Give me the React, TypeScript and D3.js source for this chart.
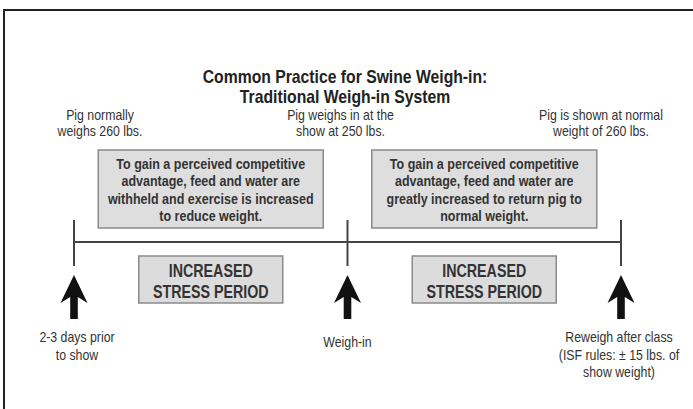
import { useMemo } from "react";
import * as d3 from "d3";

// Timeline events (left to right)
const events = ["prior", "weighin", "reweigh"];
const eventLabels = [
  ["2-3 days prior", "to show"],
  ["Weigh-in"],
  ["Reweigh after class", "(ISF rules: ± 15 lbs. of", "show weight)"],
];
const weightNotes = [
  ["Pig normally", "weighs 260 lbs."],
  ["Pig weighs in at the", "show at 250 lbs."],
  ["Pig is shown at normal", "weight of 260 lbs."],
];
const periodNotes = [
  [
    "To gain a perceived competitive",
    "advantage, feed and water are",
    "withheld and exercise is increased",
    "to reduce weight.",
  ],
  [
    "To gain a perceived competitive",
    "advantage, feed and water are",
    "greatly increased to return pig to",
    "normal weight.",
  ],
];
const periodLabels = [
  ["INCREASED", "STRESS PERIOD"],
  ["INCREASED", "STRESS PERIOD"],
];
const titleLines = ["Common Practice for Swine Weigh-in:", "Traditional Weigh-in System"];

const W = 693;
const H = 409;
const FONT = "'Liberation Sans', Arial, sans-serif";

// narrow text: the original uses a condensed sans, so squeeze horizontally
function T(props: {
  x: number;
  y: number;
  size: number;
  sx: number;
  bold?: boolean;
  fill?: string;
  children: string;
}) {
  const { x, y, size, sx, bold, fill, children } = props;
  return (
    <text
      transform={`translate(${x},${y}) scale(${sx},1)`}
      textAnchor="middle"
      fontSize={size}
      fontWeight={bold ? "bold" : "normal"}
      fill={fill ?? "#333"}
    >
      {children}
    </text>
  );
}

export default function App() {
  const x = useMemo(() => d3.scalePoint<string>().domain(events).range([74, 621]), []);
  const lineY = 242;

  // arrow shape, tip at (0,0)
  const arrow = useMemo(() => {
    const p = d3.path();
    p.moveTo(0, 0);
    p.lineTo(13.5, 28);
    p.lineTo(3.8, 22);
    p.lineTo(3.8, 44);
    p.lineTo(-3.8, 44);
    p.lineTo(-3.8, 22);
    p.lineTo(-13.5, 28);
    p.closePath();
    return p.toString();
  }, []);

  const mids = d3.pairs(events).map(([a, b]) => ((x(a) ?? 0) + (x(b) ?? 0)) / 2);

  return (
    <svg
      width={W}
      height={H}
      style={{ position: "absolute", left: 0, top: 0, background: "#fff" }}
      fontFamily={FONT}
    >
      {/* frame */}
      <rect x={4} y={10} width={W + 40} height={H + 40} fill="none" stroke="#222" strokeWidth={2} />

      {/* title */}
      {titleLines.map((t, i) => (
        <T key={t} x={345} y={82.5 + i * 20} size={17.5} sx={0.9} bold fill="#222">
          {t}
        </T>
      ))}

      {/* weight notes above events */}
      {weightNotes.map((lines, i) =>
        lines.map((t, j) => (
          <T key={`w${i}${j}`} x={(x(events[i]) ?? 0) + [26, -7, -20][i]} y={119.5 + j * 16} size={14} sx={0.88}>
            {t}
          </T>
        ))
      )}

      {/* period notes boxes */}
      {periodNotes.map((lines, i) => (
        <g key={`p${i}`} transform={`translate(${mids[i]},0)`}>
          <rect x={-112.5} y={150} width={225} height={78} fill="#dedede" stroke="#8a8a8a" strokeWidth={1.5} />
          {lines.map((t, j) => (
            <T key={j} x={0} y={168.5 + j * 17.5} size={15} sx={0.835} bold>
              {t}
            </T>
          ))}
        </g>
      ))}

      {/* timeline */}
      <line x1={x(events[0])} x2={x(events[2])} y1={lineY} y2={lineY} stroke="#444" strokeWidth={2} />
      {events.map((e) => (
        <line key={e} x1={x(e)} x2={x(e)} y1={220} y2={266} stroke="#444" strokeWidth={2} />
      ))}

      {/* stress period boxes */}
      {periodLabels.map((lines, i) => (
        <g key={`s${i}`} transform={`translate(${mids[i]},0)`}>
          <rect x={-72} y={256} width={144} height={47} fill="#dcdcdc" stroke="#8a8a8a" strokeWidth={1.5} />
          {lines.map((t, j) => (
            <T key={j} x={0} y={276.5 + j * 21} size={17.5} sx={0.815} bold>
              {t}
            </T>
          ))}
        </g>
      ))}

      {/* arrows */}
      {events.map((e) => (
        <path key={e} d={arrow} transform={`translate(${x(e)},275)`} fill="#111" />
      ))}

      {/* event labels */}
      {eventLabels.map((lines, i) =>
        lines.map((t, j) => (
          <T
            key={`e${i}${j}`}
            x={(x(events[i]) ?? 0) + [3, 0, -2][i]}
            y={(i === 1 ? 347 : 342) + j * 17.5}
            size={14}
            sx={0.88}
          >
            {t}
          </T>
        ))
      )}
    </svg>
  );
}
